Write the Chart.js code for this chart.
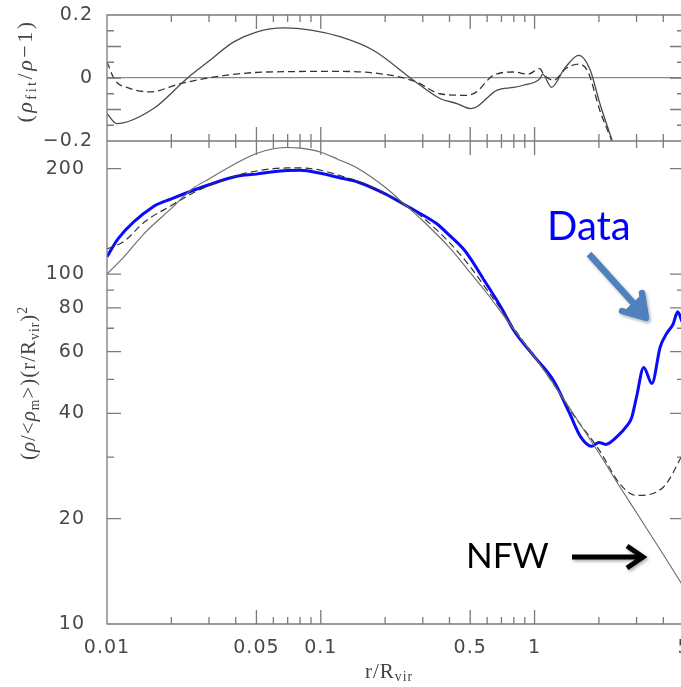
<!DOCTYPE html>
<html>
<head>
<meta charset="utf-8">
<script src="https://cdn.jsdelivr.net/npm/chart.js@4.4.1/dist/chart.umd.min.js"></script>
<style>
    html, body { margin: 0; padding: 0; overflow: hidden; background: #fff; width: 681px; height: 687px; }
    #wrap { position: relative; width: 681px; height: 687px; overflow: hidden; }
    #chart { position: absolute; left: 0; top: 0; }
    .axis-title { position: absolute; white-space: nowrap; font-family: 'Liberation Serif', serif; color: #444; letter-spacing: 1px; }
    .rot { transform: translate(-50%, -50%) rotate(-90deg); }
    .axis-title sub { font-size: 65%; vertical-align: -0.25em; }
    .axis-title sup { font-size: 65%; vertical-align: 0.6em; }
    #notes { position: absolute; left: 0; top: 0; pointer-events: none; }
</style>
</head>
<body>
<div id="wrap">
    <canvas id="chart" width="700" height="687"></canvas>
    <div class="axis-title rot" style="left:26px; top:71px; font-size:22px; letter-spacing:2.5px;">(<i>ρ</i><sub>fit</sub>/<i>ρ</i>−1)</div>
    <div class="axis-title rot" style="left:29px; top:383px; font-size:21px;">(<i>ρ</i>/&lt;<i>ρ</i><sub>m</sub>&gt;)(r/R<sub>vir</sub>)<sup>2</sup></div>
    <div class="axis-title" style="left:365px; top:661px; font-size:21px; line-height:21px;">r/R<sub>vir</sub></div>
    <svg id="notes" width="681" height="687">
        <defs>
            <filter id="shadow" x="-20%" y="-20%" width="140%" height="140%">
                <feDropShadow dx="1.5" dy="2" stdDeviation="1.5" flood-color="#000" flood-opacity="0.3"/>
            </filter>
        </defs>
        <text x="547" y="240" font-family="Lato, 'Open Sans', sans-serif" font-size="40" fill="#0000ff">Data</text>
        <text x="466" y="568" font-family="Lato, 'Open Sans', sans-serif" font-size="35" fill="#000">NFW</text>
        <g filter="url(#shadow)">
            <line x1="589" y1="254" x2="636" y2="306" stroke="#4f81bd" stroke-width="6.5"/>
            <path d="M622,311 L646,318 L642,293" fill="none" stroke="#4f81bd" stroke-width="6.5" stroke-linejoin="round" stroke-linecap="round"/>
            <polygon points="646,318 624,311 640,296 642,293" fill="#4f81bd"/>
            <line x1="572" y1="557" x2="640" y2="557" stroke="#000" stroke-width="5"/>
            <path d="M627,546 L643,557 L627,568" fill="none" stroke="#000" stroke-width="5" stroke-linejoin="miter"/>
        </g>
    </svg>
</div>
<script>
// bottom panel: scaled density profiles
const fitX = [0.01, 0.012, 0.015, 0.02, 0.025, 0.03, 0.04, 0.05, 0.06, 0.07, 0.08, 0.1, 0.12, 0.15, 0.2, 0.25, 0.3, 0.4, 0.5, 0.6, 0.7, 0.8, 1, 1.2, 1.5, 2, 2.5, 3, 4, 5];
const nfwProfile = [100, 112, 131, 154, 175, 187, 207, 221, 228, 230, 229, 223, 213, 200, 177, 157, 142, 119, 101, 88, 77.6, 69.5, 58, 49.5, 40.3, 30.8, 24.7, 20.8, 15.8, 12.7];
const altProfile = [118, 124, 141, 157, 170, 179, 191, 197, 200, 201, 201, 198, 192, 184, 170, 157, 145, 123, 105, 90, 79, 70, 58, 49.5, 40, 31.5, 25.2, 23.3, 24.6, 31];

const dataX = [0.01, 0.0113, 0.0165, 0.02, 0.025, 0.03, 0.04, 0.05, 0.06, 0.07, 0.08, 0.1, 0.12, 0.15, 0.2, 0.26, 0.3, 0.35, 0.4, 0.47, 0.5, 0.575, 0.7, 0.8, 1, 1.23, 1.45, 1.64, 1.85, 2.0, 2.15, 2.43, 2.7, 2.85, 3.0, 3.24, 3.54, 3.87, 4.16, 4.45, 4.67, 4.9];
const dataProfile = [112, 126.5, 156, 164, 173, 180, 190, 193, 196, 197.5, 198, 194, 189, 183, 169.5, 155, 147.5, 139, 129, 117, 111, 97, 80, 69, 58, 49.5, 40.3, 34.3, 32.2, 33, 32.6, 34.3, 36.8, 39, 44.6, 54.1, 48.7, 61.9, 67.8, 72, 78, 73];

// top panel: fractional residuals
const resSolidX = [0.01, 0.0111, 0.0165, 0.0236, 0.03, 0.039, 0.05, 0.067, 0.09, 0.123, 0.176, 0.271, 0.361, 0.433, 0.5, 0.535, 0.665, 0.8, 0.887, 1.06, 1.09, 1.2, 1.38, 1.61, 1.81, 2.02, 2.31];
const resSolid = [-0.113, -0.145, -0.097, -0.002, 0.054, 0.114, 0.146, 0.159, 0.152, 0.131, 0.088, -0.007, -0.065, -0.081, -0.097, -0.092, -0.039, -0.03, -0.023, -0.002, 0.012, -0.03, 0.03, 0.072, 0.03, -0.081, -0.2];
const resDashX = [0.01, 0.0109, 0.0124, 0.0159, 0.022, 0.0363, 0.056, 0.123, 0.211, 0.281, 0.361, 0.482, 0.535, 0.643, 0.8, 0.93, 1.06, 1.1, 1.23, 1.4, 1.61, 1.78, 2.02, 2.27, 2.3];
const resDash = [0.051, -0.007, -0.03, -0.044, -0.018, 0.009, 0.019, 0.021, 0.009, -0.013, -0.05, -0.055, -0.044, 0.009, 0.019, 0.012, 0.03, 0.012, -0.007, 0.03, 0.044, 0.019, -0.103, -0.19, -0.2];

// ticks
const xMajor = [0.01, 0.05, 0.1, 0.5, 1, 5];
const xLabels = ['0.01', '0.05', '0.1', '0.5', '1', '5'];
const xMinor = [0.02, 0.03, 0.04, 0.06, 0.07, 0.08, 0.09, 0.2, 0.3, 0.4, 0.6, 0.7, 0.8, 0.9, 2, 3, 4];
const logMajor = [10, 20, 40, 60, 80, 100, 200];
const logLabels = ['10', '20', '40', '60', '80', '100', '200'];
const logMinor = [30, 50, 70, 90];
const resMajor = [-0.2, -0.1, 0, 0.1, 0.2];
const resLabels = ['−0.2', '−0.1', '0', '0.1', '0.2'];
const resMinor = [-0.15, -0.05, 0.05, 0.15];

const pts = (xs, ys) => xs.map((x, i) => ({ x: x, y: ys[i] }));
const tickFont = { family: "'DejaVu Sans', sans-serif", size: 19 };

// keep the plot box where the layout padding puts it
function fixBox(s, w, h) {
    if (w) s.width = w;
    if (h) s.height = h;
    s.paddingTop = 0;
    s.paddingBottom = 0;
    s.paddingLeft = 0;
    s.paddingRight = 0;
}

const frameTicks = {
    id: 'frameTicks',
    beforeDraw(chart) {
        chart.ctx.letterSpacing = '1px';
    },
    afterDraw(chart) {
        const ctx = chart.ctx;
        const area = chart.chartArea;
        const x = chart.scales.x;
        ctx.save();
        ctx.letterSpacing = '0px';
        ctx.strokeStyle = '#7a7a7a';
        ctx.lineWidth = 1.3;
        ctx.beginPath();
        [[chart.scales.yRes, resMajor, resMinor], [chart.scales.yLog, logMajor, logMinor]].forEach(([ys, major, minor]) => {
            ctx.rect(area.left, ys.top, area.right - area.left, ys.bottom - ys.top);
            const xt = (list, len) => list.forEach(v => {
                const p = x.getPixelForValue(v);
                ctx.moveTo(p, ys.top); ctx.lineTo(p, ys.top + len);
                ctx.moveTo(p, ys.bottom); ctx.lineTo(p, ys.bottom - len);
            });
            const yt = (list, len) => list.forEach(v => {
                const p = ys.getPixelForValue(v);
                ctx.moveTo(area.left, p); ctx.lineTo(area.left + len, p);
                ctx.moveTo(area.right, p); ctx.lineTo(area.right - len, p);
            });
            xt(xMajor, 14); xt(xMinor, 7);
            yt(major, 14); yt(minor, 7);
        });
        ctx.stroke();
        ctx.restore();
    }
};

new Chart(document.getElementById('chart'), {
    type: 'line',
    data: {
        datasets: [
            { data: pts(fitX, nfwProfile), yAxisID: 'yLog', borderColor: '#6a6a6a', borderWidth: 1.1 },
            { data: pts(fitX, altProfile), yAxisID: 'yLog', borderColor: '#333', borderWidth: 1.2, borderDash: [7, 4] },
            { data: pts(dataX, dataProfile), yAxisID: 'yLog', borderColor: '#0a0aff', borderWidth: 3 },
            { data: pts(resSolidX, resSolid), yAxisID: 'yRes', borderColor: '#4a4a4a', borderWidth: 1.3 },
            { data: pts(resDashX, resDash), yAxisID: 'yRes', borderColor: '#333', borderWidth: 1.3, borderDash: [7, 4] }
        ]
    },
    options: {
        responsive: false,
        animation: false,
        devicePixelRatio: 1,
        layout: { padding: { left: 0, right: 16, top: 15, bottom: 0 } },
        elements: {
            point: { radius: 0 },
            line: { cubicInterpolationMode: 'monotone', fill: false }
        },
        plugins: { legend: { display: false }, tooltip: { enabled: false } },
        scales: {
            x: {
                type: 'logarithmic',
                min: 0.01,
                max: 5,
                grid: { display: false },
                border: { display: false },
                afterBuildTicks: s => { s.ticks = xMajor.map(v => ({ value: v })); },
                afterFit: s => fixBox(s, 0, 63),
                ticks: {
                    autoSkip: false,
                    maxRotation: 0,
                    padding: 5,
                    color: '#484848',
                    font: tickFont,
                    callback: v => xLabels[xMajor.indexOf(v)]
                }
            },
            yLog: {
                type: 'logarithmic',
                position: 'left',
                stack: 'panels',
                stackWeight: 483,
                min: 10,
                max: 240,
                grid: { display: false },
                border: { display: false },
                afterBuildTicks: s => { s.ticks = logMajor.map(v => ({ value: v })); },
                afterFit: s => fixBox(s, 107, 0),
                ticks: {
                    padding: 14,
                    color: '#484848',
                    font: tickFont,
                    callback: v => logLabels[logMajor.indexOf(v)]
                }
            },
            yRes: {
                type: 'linear',
                position: 'left',
                stack: 'panels',
                stackWeight: 126,
                min: -0.2,
                max: 0.2,
                grid: {
                    drawTicks: false,
                    lineWidth: 1.3,
                    color: c => (c.tick && c.tick.value === 0 ? '#8a8a8a' : 'rgba(0,0,0,0)')
                },
                border: { display: false },
                afterBuildTicks: s => { s.ticks = resMajor.map(v => ({ value: v })); },
                afterFit: s => fixBox(s, 107, 0),
                ticks: {
                    padding: 14,
                    color: '#484848',
                    font: tickFont,
                    callback: v => resLabels[resMajor.indexOf(v)]
                }
            }
        }
    },
    plugins: [frameTicks]
});
</script>
</body>
</html>
